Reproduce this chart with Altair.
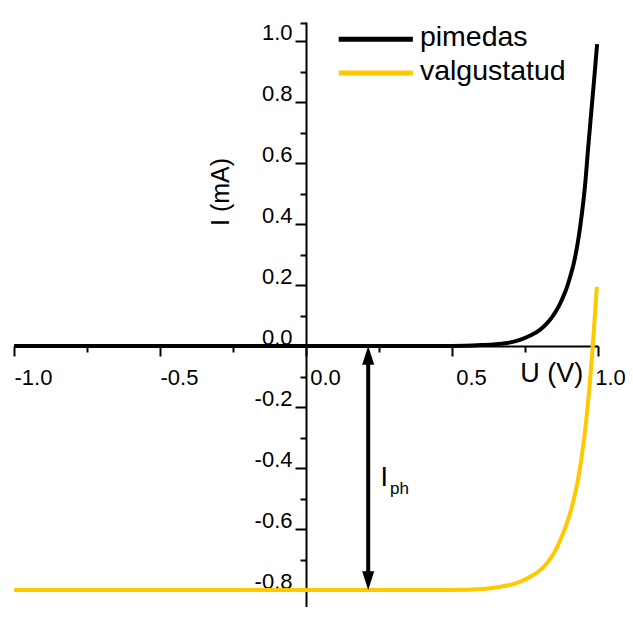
import altair as alt
import pandas as pd

# ---- data ----
series_names = ["pimedas", "valgustatud"]
series_colors = ["#000000", "#FFC800"]

U_dark = [-1.0, 0.0, 0.5, 0.6, 0.65, 0.7, 0.735, 0.77, 0.8, 0.825, 0.845, 0.865, 0.88, 0.894,
          0.905, 0.917, 0.934, 0.945, 0.956, 0.965, 0.974, 0.986, 0.997]
I_dark = [0.0, 0.0, 0.0, 0.003, 0.006, 0.012, 0.021, 0.035, 0.052, 0.074, 0.098, 0.129, 0.16, 0.194,
          0.228, 0.271, 0.358, 0.435, 0.53, 0.635, 0.735, 0.865, 0.99]

U_light = [-1.0, 0.0, 0.5, 0.6, 0.665, 0.715, 0.757, 0.795, 0.825, 0.85, 0.871, 0.89, 0.905, 0.92,
           0.934, 0.951, 0.966, 0.982, 0.996]
I_light = [-0.8, -0.8, -0.8, -0.797, -0.789, -0.779, -0.762, -0.74, -0.712, -0.678, -0.636, -0.59,
           -0.546, -0.49, -0.425, -0.315, -0.185, 0.0, 0.194]

x_major = [-1.0, -0.5, 0.0, 0.5, 1.0]
x_minor = [-0.75, -0.25, 0.25, 0.75]
y_major = [-0.8, -0.6, -0.4, -0.2, 0.0, 0.2, 0.4, 0.6, 0.8, 1.0]
y_minor = [-0.7, -0.5, -0.3, -0.1, 0.1, 0.3, 0.5, 0.7, 0.9, 1.06]

x_title = "U (V)"
y_title = "I (mA)"
iph_main = "I"
iph_sub = "ph"

# ---- layout ----
FONT = "Liberation Sans"
W, H = 584, 585
XMIN, XMAX = -1.0, 1.0
YMIN, YMAX = -0.8557, 1.0623
XAXIS_OFF = -H * (0 - YMIN) / (YMAX - YMIN)
YAXIS_OFF = -W * (0 - XMIN) / (XMAX - XMIN)

rows = []
for name, us, ys in zip(series_names, [U_dark, U_light], [I_dark, I_light]):
    for u, i in zip(us, ys):
        rows.append({"U": u, "I": i, "series": name})
df = pd.DataFrame(rows)

xs = alt.Scale(domain=[XMIN, XMAX], nice=False, zero=False)
ys_ = alt.Scale(domain=[YMIN, YMAX], nice=False, zero=False)
cs = alt.Scale(domain=series_names, range=series_colors)

lab_expr = "datum.value < 0 ? '-' + format(-datum.value, '.1f') : format(datum.value, '.1f')"

xaxis_major = alt.Axis(orient="bottom", offset=XAXIS_OFF, values=x_major, title=None, grid=False,
                       domainColor="black", domainWidth=2, tickColor="black", tickWidth=2, tickSize=10,
                       labelFont=FONT, labelFontSize=22, labelColor="black", labelAlign="center",
                       labelOffset={"condition": {"test": "datum.value >= 1", "value": 12}, "value": 19},
                       labelPadding=11, labelBaseline="top", labelFlush=False,
                       labelOverlap=False, labelExpr=lab_expr)
yaxis_major = alt.Axis(orient="left", offset=YAXIS_OFF, values=y_major, title=None, grid=False,
                       domainColor="black", domainWidth=2, tickColor="black", tickWidth=2, tickSize=11,
                       labelFont=FONT, labelFontSize=22, labelColor="black", labelAlign="right",
                       labelBaseline="middle", labelOffset=-9, labelPadding=3, labelFlush=False,
                       labelOverlap=False, labelExpr=lab_expr)
xaxis_minor = alt.Axis(orient="bottom", offset=XAXIS_OFF, values=x_minor, title=None, grid=False,
                       domain=False, labels=False, tickColor="black", tickWidth=2, tickSize=6)
yaxis_minor = alt.Axis(orient="left", offset=YAXIS_OFF, values=y_minor, title=None, grid=False,
                       domain=False, labels=False, tickColor="black", tickWidth=2, tickSize=6)

curves = alt.Chart(df).mark_line(strokeWidth=4, interpolate="monotone").encode(
    x=alt.X("U:Q", scale=xs, axis=xaxis_major),
    y=alt.Y("I:Q", scale=ys_, axis=yaxis_major),
    color=alt.Color("series:N", scale=cs, legend=None),
    order="U:Q",
)

minor = alt.Chart(df).mark_line(opacity=0).encode(
    x=alt.X("U:Q", scale=xs, axis=xaxis_minor),
    y=alt.Y("I:Q", scale=ys_, axis=yaxis_minor),
    detail="series:N",
)

# legend (positions in data units)
leg_df = pd.DataFrame({"series": series_names, "x1": [0.112, 0.112], "x2": [0.366, 0.366],
                       "y": [1.006, 0.895], "tx": [0.39, 0.39]})
leg_lines = alt.Chart(leg_df).mark_rule(strokeWidth=5).encode(
    x=alt.X("x1:Q", scale=xs, axis=None), x2="x2:Q",
    y=alt.Y("y:Q", scale=ys_, axis=None),
    color=alt.Color("series:N", scale=cs, legend=None),
)
leg_text = alt.Chart(leg_df).mark_text(font=FONT, fontSize=28.5, align="left", baseline="middle",
                                       dy=-2, color="black").encode(
    x=alt.X("tx:Q", scale=xs, axis=None),
    y=alt.Y("y:Q", scale=ys_, axis=None),
    text="series:N",
)

# axis titles
tit_df = pd.DataFrame({"t": [x_title], "x": [0.842], "y": [-0.092]})
xt = alt.Chart(tit_df).mark_text(font=FONT, fontSize=27, align="center", baseline="middle",
                                 color="black").encode(
    x=alt.X("x:Q", scale=xs, axis=None), y=alt.Y("y:Q", scale=ys_, axis=None), text="t:N")
ytit_df = pd.DataFrame({"t": [y_title], "x": [-0.291], "y": [0.505]})
yt = alt.Chart(ytit_df).mark_text(font=FONT, fontSize=25, align="center", baseline="middle",
                                  angle=270, color="black").encode(
    x=alt.X("x:Q", scale=xs, axis=None), y=alt.Y("y:Q", scale=ys_, axis=None), text="t:N")

# I_ph arrow
arrow_x = 0.213
shaft_df = pd.DataFrame({"x": [arrow_x], "y1": [-0.04], "y2": [-0.76]})
shaft = alt.Chart(shaft_df).mark_rule(strokeWidth=4, color="black").encode(
    x=alt.X("x:Q", scale=xs, axis=None), y=alt.Y("y1:Q", scale=ys_, axis=None), y2="y2:Q")
head_up = alt.Chart(pd.DataFrame({"x": [arrow_x], "y": [0.0]})).mark_point(
    shape="M0,0L-0.55,1.7L0.55,1.7Z", size=484, filled=True, color="black", opacity=1,
    strokeWidth=0).encode(x=alt.X("x:Q", scale=xs, axis=None), y=alt.Y("y:Q", scale=ys_, axis=None))
head_dn = alt.Chart(pd.DataFrame({"x": [arrow_x], "y": [-0.8]})).mark_point(
    shape="M0,0L-0.55,-1.7L0.55,-1.7Z", size=484, filled=True, color="black", opacity=1,
    strokeWidth=0).encode(x=alt.X("x:Q", scale=xs, axis=None), y=alt.Y("y:Q", scale=ys_, axis=None))

iph1 = alt.Chart(pd.DataFrame({"t": [iph_main], "x": [0.255], "y": [-0.459]})).mark_text(
    font=FONT, fontSize=27, align="left", baseline="alphabetic", color="black").encode(
    x=alt.X("x:Q", scale=xs, axis=None), y=alt.Y("y:Q", scale=ys_, axis=None), text="t:N")
iph2 = alt.Chart(pd.DataFrame({"t": [iph_sub], "x": [0.288], "y": [-0.485]})).mark_text(
    font=FONT, fontSize=17, align="left", baseline="alphabetic", color="black").encode(
    x=alt.X("x:Q", scale=xs, axis=None), y=alt.Y("y:Q", scale=ys_, axis=None), text="t:N")

chart = alt.layer(curves, minor, leg_lines, leg_text, xt, yt, shaft, head_up, head_dn, iph1, iph2).resolve_axis(
    x="independent", y="independent"
).properties(
    width=W, height=H,
    padding={"left": 6, "top": 14, "right": 27, "bottom": 0},
    autosize=alt.AutoSizeParams(type="none"),
).configure_view(stroke=None)

chart.save("out.html", embed_options={"renderer": "svg", "actions": False})
